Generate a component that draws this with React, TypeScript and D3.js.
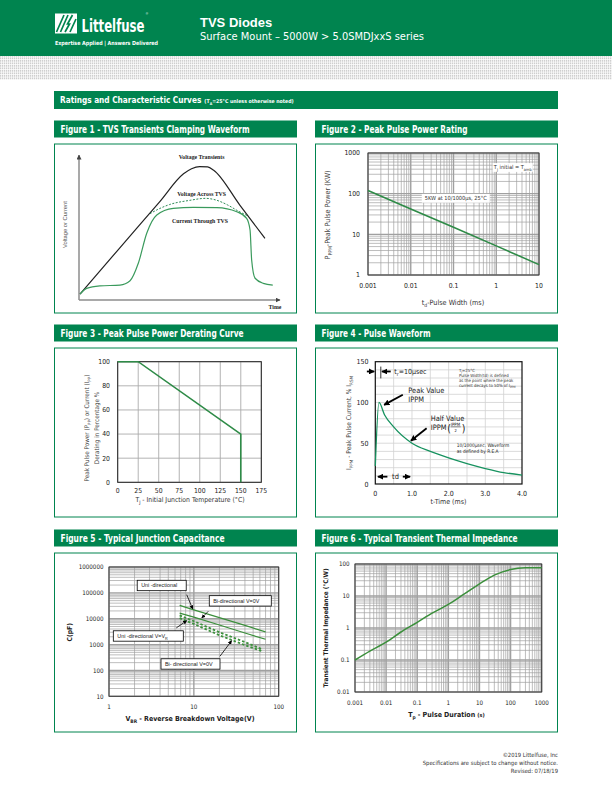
import * as d3 from 'd3';
import { useEffect, useRef } from 'react';

const GREEN = '#00844f';
const CURVE = '#2e8b47';
const TEAL = '#17925f';
const NARROW = "'Liberation Sans Narrow','Arial Narrow','DejaVu Sans Condensed',sans-serif";
const SANS = "'Liberation Sans',Arial,sans-serif";
const SERIF = "'Liberation Serif','Times New Roman',serif";

// Figure 1 - clamping waveform, arbitrary units (0-100 both ways)
const transientT = [0.5, 20, 40, 52, 56, 60, 64, 67, 80, 92.5];
const transientV = [4, 35.5, 67.5, 87, 90.5, 92, 91.8, 89.5, 65.5, 42.5];
const clampT = [35.3, 40, 45, 55, 63, 68, 74, 79, 84.2];
const clampV = [59.5, 63, 65.8, 68.7, 70.1, 69, 65.5, 61.5, 57.9];
const currentT = [0.5, 3.8, 10.4, 20.4, 25.4, 29.5, 33.7, 38.7, 46.9, 56.9, 68.6, 78.5, 83.4, 85.1, 85.9, 87.6, 91.7, 96.4];
const currentI = [4.1, 8, 9.7, 10.3, 13.3, 25.3, 46, 58.6, 63.2, 63.9, 63.7, 60.9, 56.3, 48.3, 27.6, 15, 11.5, 10.3];

// Figure 2 - peak pulse power rating
const pulseWidthMs = [0.001, 0.01, 0.1, 1, 10];
const peakPowerKW = [120, 42, 15, 5.2, 1.8];
const fig2XTicks = [0.001, 0.01, 0.1, 1, 10];
const fig2YTicks = [1, 10, 100, 1000];

// Figure 3 - derating curve
const derateTemp = [0, 25, 150, 150];
const deratePct = [100, 100, 40, 0];
const fig3XTicks = [0, 25, 50, 75, 100, 125, 150, 175];
const fig3YTicks = [0, 20, 40, 60, 80, 100];

// Figure 4 - pulse waveform
const waveTimeMs = [0, 0.1, 0.25, 0.5, 1, 1.5, 2, 2.5, 3, 3.5, 4];
const waveCurrentPct = [22, 100, 85, 70, 50, 40, 32, 25, 19, 14, 11];
const fig4XTicks = [0, 1, 2, 3, 4];
const fig4XLabels = ['0', '1.0', '2.0', '3.0', '4.0'];
const fig4YTicks = [0, 50, 100, 150];

// Figure 5 - junction capacitance
const vbrSolid = [6.8, 10, 20, 40, 70];
const capUni = [33000, 22000, 11000, 5500, 3100];
const capBi = [16500, 11500, 5700, 2800, 1600];
const vbrDashed = [6.8, 10, 20, 40, 65];
const capUniVr = [13500, 8000, 3000, 1250, 640];
const capBiVr = [10500, 6300, 2300, 950, 540];
const fig5XTicks = [1, 10, 100];
const fig5YTicks = [10, 100, 1000, 10000, 100000, 1000000];

// Figure 6 - thermal impedance
const pulseDurS = [0.001, 0.003, 0.01, 0.03, 0.1, 0.3, 1, 3, 10, 30, 100, 300, 1000];
const thermalZ = [0.1, 0.19, 0.36, 0.75, 1.5, 2.9, 5.5, 11, 24, 45, 67, 76, 77];
const fig6XTicks = [0.001, 0.01, 0.1, 1, 10, 100, 1000];
const fig6YTicks = [0.01, 0.1, 1, 10, 100];

const logSteps = (lo: number, hi: number) => {
  const out: number[] = [];
  for (let k = lo; k < hi; k++) for (let m = 1; m < 10; m++) out.push(+(m * Math.pow(10, k)).toPrecision(2));
  out.push(Math.pow(10, hi));
  return out;
};
const isDecade = (v: number) => Math.abs(Math.log10(v) - Math.round(Math.log10(v))) < 1e-6;

// text with subscript parts: [string, isSub]
function rich(sel: any, parts: [string, boolean?][], fs: number) {
  let down = false;
  parts.forEach(([s, sub]) => {
    const t = sel.append('tspan').text(s).attr('font-size', sub ? fs * 0.7 : fs);
    if (sub && !down) { t.attr('dy', fs * 0.3); down = true; }
    else if (!sub && down) { t.attr('dy', -fs * 0.3); down = false; }
  });
  return sel;
}

function App() {
  const ref = useRef<SVGSVGElement>(null);

  useEffect(() => {
    const svg = d3.select(ref.current);
    svg.selectAll('*').remove();

    const defs = svg.append('defs');
    const dots = defs.append('pattern').attr('id', 'dots').attr('patternUnits', 'userSpaceOnUse')
      .attr('width', 2).attr('height', 2.5);
    dots.append('rect').attr('width', 2).attr('height', 2.5).attr('fill', '#fff');
    dots.append('rect').attr('width', 1.3).attr('height', 1.8).attr('fill', '#cfcfcf');

    const marker = (id: string, size: number, color: string) => {
      defs.append('marker').attr('id', id).attr('viewBox', '0 0 10 10').attr('refX', 9).attr('refY', 5)
        .attr('markerUnits', 'userSpaceOnUse').attr('markerWidth', size).attr('markerHeight', size)
        .attr('orient', 'auto-start-reverse')
        .append('path').attr('d', 'M0,0L10,5L0,10Z').attr('fill', color);
    };
    marker('head', 6, '#000');
    marker('headSmall', 4, '#000');
    marker('headGray', 5, '#444');

    // ---------- header
    svg.append('rect').attr('width', 612).attr('height', 56).attr('fill', GREEN);
    svg.append('rect').attr('y', 56).attr('width', 612).attr('height', 24).attr('fill', 'url(#dots)');
    svg.append('rect').attr('x', 55).attr('y', 13.5).attr('width', 22).attr('height', 20).attr('fill', '#fff');
    svg.append('path')
      .attr('d', 'M56.5,32 L64,15 M60.5,32 L68,15 M65,32 L69.5,24 L67.5,24 L72.5,15 M70,32 L76,19')
      .attr('stroke', GREEN).attr('stroke-width', 1.7).attr('fill', 'none');
    svg.append('text').attr('x', 81.5).attr('y', 32.3).attr('fill', '#fff').attr('font-family', NARROW)
      .attr('font-weight', 700).attr('font-size', 18).attr('textLength', 63).attr('lengthAdjust', 'spacingAndGlyphs')
      .text('Littelfuse');
    svg.append('text').attr('x', 145.8).attr('y', 14.6).attr('fill', '#fff').attr('font-family', SANS)
      .attr('font-size', 3.2).text('®');
    svg.append('text').attr('x', 55).attr('y', 44.5).attr('fill', '#fff').attr('font-family', NARROW)
      .attr('font-weight', 700).attr('font-size', 5.6).attr('textLength', 103).attr('lengthAdjust', 'spacingAndGlyphs')
      .text('Expertise Applied  |  Answers Delivered');
    svg.append('text').attr('x', 200).attr('y', 27.3).attr('fill', '#fff').attr('font-family', SANS)
      .attr('font-weight', 700).attr('font-size', 13).text('TVS Diodes');
    svg.append('text').attr('x', 200).attr('y', 39.5).attr('fill', '#fff').attr('font-family', NARROW)
      .attr('font-size', 10.8).attr('textLength', 224).attr('lengthAdjust', 'spacingAndGlyphs')
      .text('Surface Mount – 5000W  >  5.0SMDJxxS series');

    // ---------- section bar
    svg.append('rect').attr('x', 54).attr('y', 91).attr('width', 504).attr('height', 18).attr('fill', GREEN);
    const sec = svg.append('text').attr('x', 60).attr('y', 103.3).attr('fill', '#fff').attr('font-family', NARROW)
      .attr('font-weight', 700);
    sec.append('tspan').attr('font-size', 8.2).text('Ratings and Characteristic Curves');
    const secNote = sec.append('tspan').attr('dx', 3);
    rich(secNote, [['(T'], ['A', true], ['=25°C unless otherwise noted)']], 5.2);

    const panel = (x: number, y: number, h: number, title: string, tw: number) => {
      svg.append('rect').attr('x', x).attr('y', y).attr('width', 243).attr('height', 17).attr('fill', GREEN);
      svg.append('text').attr('x', x + 6.5).attr('y', y + 12).attr('fill', '#fff').attr('font-family', NARROW)
        .attr('font-weight', 700).attr('font-size', 9.6).attr('textLength', tw).attr('lengthAdjust', 'spacingAndGlyphs')
        .text(title);
      svg.append('rect').attr('x', x + 0.5).attr('y', y + 23.5).attr('width', 242).attr('height', h)
        .attr('fill', 'none').attr('stroke', GREEN).attr('stroke-width', 1);
    };
    panel(54, 120.5, 169, 'Figure 1 - TVS Transients Clamping Waveform', 189);
    panel(315, 120.5, 169, 'Figure 2 - Peak Pulse Power Rating', 146);
    panel(54, 324.5, 169, 'Figure 3 - Peak Pulse Power Derating Curve', 183);
    panel(315, 324.5, 169, 'Figure 4 - Pulse Waveform', 109);
    panel(54, 529.5, 179, 'Figure 5 - Typical Junction Capacitance', 164);
    panel(315, 529.5, 179, 'Figure 6 - Typical Transient Thermal Impedance', 196);

    const tickText = (g: any, x: number, y: number, s: string, anchor: string, fs: number, bold = false) =>
      g.append('text').attr('x', x).attr('y', y).attr('text-anchor', anchor).attr('font-family', NARROW)
        .attr('font-size', fs).attr('font-weight', bold ? 700 : 400).attr('fill', '#222').text(s);

    const logGrid = (g: any, x: any, y: any, xs: number[], ys: number[]) => {
      const [y0, y1] = y.range();
      const [x0, x1] = x.range();
      g.selectAll(null).data(xs).join('line')
        .attr('x1', (d: number) => x(d)).attr('x2', (d: number) => x(d)).attr('y1', y0).attr('y2', y1)
        .attr('stroke', '#a0a0a0').attr('stroke-width', (d: number) => (isDecade(d) ? 1.4 : 0.7));
      g.selectAll(null).data(ys).join('line')
        .attr('y1', (d: number) => y(d)).attr('y2', (d: number) => y(d)).attr('x1', x0).attr('x2', x1)
        .attr('stroke', '#a0a0a0').attr('stroke-width', (d: number) => (isDecade(d) ? 1.4 : 0.7));
      g.append('rect').attr('x', x0).attr('y', y1).attr('width', x1 - x0).attr('height', y0 - y1)
        .attr('fill', 'none').attr('stroke', '#333').attr('stroke-width', 0.9);
    };

    // ---------- Figure 1
    {
      const x = d3.scaleLinear().domain([0, 100]).range([79, 280]);
      const y = d3.scaleLinear().domain([0, 100]).range([300, 155]);
      const g = svg.append('g');
      g.append('line').attr('x1', x(0)).attr('x2', x(0)).attr('y1', y(0)).attr('y2', y(100))
        .attr('stroke', '#8c8c8c').attr('stroke-width', 1.5).attr('marker-end', 'url(#headGray)');
      g.append('line').attr('x1', x(0)).attr('x2', x(100)).attr('y1', y(0)).attr('y2', y(0))
        .attr('stroke', '#8c8c8c').attr('stroke-width', 1.5).attr('marker-end', 'url(#headGray)');
      const ln = d3.line<[number, number]>().x(d => x(d[0])).y(d => y(d[1])).curve(d3.curveMonotoneX);
      g.append('path').attr('d', ln(d3.zip(transientT, transientV) as any)).attr('fill', 'none')
        .attr('stroke', '#222').attr('stroke-width', 1.2);
      g.append('path').attr('d', ln(d3.zip(clampT, clampV) as any)).attr('fill', 'none')
        .attr('stroke', '#2e8b57').attr('stroke-width', 1).attr('stroke-dasharray', '2,1.5');
      g.append('path').attr('d', ln(d3.zip(currentT, currentI) as any)).attr('fill', 'none')
        .attr('stroke', '#3a9a5c').attr('stroke-width', 1.2);
      const lbl = (xv: number, yv: number, s: string) =>
        g.append('text').attr('x', x(xv)).attr('y', y(yv) + 2).attr('text-anchor', 'middle').attr('font-family', SERIF)
          .attr('font-weight', 700).attr('font-size', 5.8).attr('fill', '#222').text(s);
      lbl(61, 98.6, 'Voltage Transients');
      lbl(61, 73.1, 'Voltage Across TVS');
      lbl(60.2, 54.5, 'Current Through TVS');
      g.append('text').attr('x', x(97.5)).attr('y', y(0) + 9).attr('text-anchor', 'middle').attr('font-family', SERIF)
        .attr('font-weight', 700).attr('font-size', 5.8).attr('fill', '#222').text('Time');
      g.append('text').attr('transform', `translate(67,${y(52)}) rotate(-90)`).attr('text-anchor', 'middle')
        .attr('font-family', SANS).attr('font-size', 5.8).attr('fill', '#555').text('Voltage or Current');
    }

    // ---------- Figure 2
    {
      const x = d3.scaleLog().domain([0.001, 10]).range([368, 539]);
      const y = d3.scaleLog().domain([1, 1000]).range([275, 153]);
      const g = svg.append('g');
      logGrid(g, x, y, logSteps(-3, 1), logSteps(0, 3));
      const ln = d3.line<[number, number]>().x(d => x(d[0])).y(d => y(d[1]));
      g.append('path').attr('d', ln(d3.zip(pulseWidthMs, peakPowerKW) as any)).attr('fill', 'none')
        .attr('stroke', CURVE).attr('stroke-width', 1.6);
      fig2XTicks.forEach(v => tickText(g, x(v), 288, String(v), 'middle', 6.8));
      fig2YTicks.forEach(v => tickText(g, 360, y(v) + 2.4, String(v), 'end', 6.8));
      const note = (xv: number, yv: number, w: number, parts: [string, boolean?][]) => {
        g.append('rect').attr('x', x(xv) - w / 2).attr('y', y(yv) - 4.4).attr('width', w).attr('height', 8.8).attr('fill', '#fff');
        rich(g.append('text').attr('x', x(xv)).attr('y', y(yv) + 2).attr('text-anchor', 'middle').attr('font-family', NARROW)
          .attr('fill', '#333'), parts, 5.6);
      };
      note(0.113, 77, 68, [['5KW at 10/1000μs, 25°C']]);
      note(2.43, 440, 40, [['T'], ['J', true], [' initial = T'], ['amb', true]]);
      rich(g.append('text').attr('x', 453).attr('y', 305).attr('text-anchor', 'middle').attr('font-family', NARROW)
        .attr('fill', '#333'), [['t'], ['d', true], ['-Pulse Width (ms)']], 7.2);
      rich(g.append('text').attr('transform', `translate(329.5,${y(30)}) rotate(-90)`).attr('text-anchor', 'middle')
        .attr('font-family', NARROW).attr('fill', '#444'), [['P'], ['PPM', true], ['-Peak Pulse Power (KW)']], 7.2);
    }

    // ---------- Figure 3
    {
      const x = d3.scaleLinear().domain([0, 175]).range([117.7, 261.3]);
      const y = d3.scaleLinear().domain([0, 100]).range([482.3, 361.7]);
      const g = svg.append('g');
      g.selectAll(null).data(fig3XTicks).join('line').attr('x1', d => x(d)).attr('x2', d => x(d))
        .attr('y1', y(0)).attr('y2', y(100)).attr('stroke', '#aaa').attr('stroke-width', 0.9);
      g.selectAll(null).data(fig3YTicks).join('line').attr('y1', d => y(d)).attr('y2', d => y(d))
        .attr('x1', x(0)).attr('x2', x(175)).attr('stroke', '#aaa').attr('stroke-width', 0.9);
      g.append('rect').attr('x', x(0)).attr('y', y(100)).attr('width', x(175) - x(0)).attr('height', y(0) - y(100))
        .attr('fill', 'none').attr('stroke', '#222').attr('stroke-width', 1);
      const ln = d3.line<[number, number]>().x(d => x(d[0])).y(d => y(d[1]));
      g.append('path').attr('d', ln(d3.zip(derateTemp, deratePct) as any)).attr('fill', 'none')
        .attr('stroke', CURVE).attr('stroke-width', 1.6);
      fig3XTicks.forEach(v => tickText(g, x(v), 492.5, String(v), 'middle', 6.8));
      fig3YTicks.forEach(v => tickText(g, 110, y(v) + 2.4, String(v), 'end', 6.8));
      rich(g.append('text').attr('x', 190).attr('y', 501.5).attr('text-anchor', 'middle').attr('font-family', NARROW)
        .attr('fill', '#333'), [['T'], ['J', true], [' - Initial Junction Temperature (°C)']], 6.8);
      rich(g.append('text').attr('transform', `translate(89,${y(45)}) rotate(-90)`).attr('text-anchor', 'middle')
        .attr('font-family', NARROW).attr('fill', '#444'),
        [['Peak Pulse Power (P'], ['PP', true], [') or Current (I'], ['PP', true], [')']], 6.3);
      g.append('text').attr('transform', `translate(99,${y(45)}) rotate(-90)`).attr('text-anchor', 'middle')
        .attr('font-family', NARROW).attr('font-size', 6.3).attr('fill', '#444').text('Derating in Percentage %');
    }

    // ---------- Figure 4
    {
      const x = d3.scaleLinear().domain([0, 4]).range([375.3, 522]);
      const y = d3.scaleLinear().domain([0, 150]).range([484, 361.7]);
      const g = svg.append('g');
      g.selectAll(null).data(d3.range(0.5, 4, 0.5)).join('line').attr('x1', d => x(d)).attr('x2', d => x(d))
        .attr('y1', y(0)).attr('y2', y(150)).attr('stroke', '#d2d2d2').attr('stroke-width', 0.8);
      g.selectAll(null).data(d3.range(10, 150, 10)).join('line').attr('y1', d => y(d)).attr('y2', d => y(d))
        .attr('x1', x(0)).attr('x2', x(4)).attr('stroke', '#d2d2d2').attr('stroke-width', 0.8);
      g.append('rect').attr('x', x(0)).attr('y', y(150)).attr('width', x(4) - x(0)).attr('height', y(0) - y(150))
        .attr('fill', 'none').attr('stroke', '#111').attr('stroke-width', 1.2);
      const ln = d3.line<[number, number]>().x(d => x(d[0])).y(d => y(d[1])).curve(d3.curveMonotoneX);
      g.append('path').attr('d', ln(d3.zip(waveTimeMs, waveCurrentPct) as any)).attr('fill', 'none')
        .attr('stroke', TEAL).attr('stroke-width', 1.3);
      fig4XTicks.forEach((v, i) => tickText(g, x(v), 496, fig4XLabels[i], 'middle', 7));
      fig4YTicks.forEach(v => tickText(g, 368.5, y(v) + 2.5, String(v), 'end', 7));

      const arrow = (x1: number, y1: number, x2: number, y2: number) =>
        g.append('line').attr('x1', x(x1)).attr('y1', y(y1)).attr('x2', x(x2)).attr('y2', y(y2))
          .attr('stroke', '#000').attr('stroke-width', 1.8).attr('marker-end', 'url(#head)');
      arrow(-0.23, 138, -0.03, 138);
      arrow(0.42, 138, 0.18, 138);
      g.append('line').attr('x1', x(0.15)).attr('x2', x(0.15)).attr('y1', y(144)).attr('y2', y(129.5))
        .attr('stroke', '#000').attr('stroke-width', 0.8);
      rich(g.append('text').attr('x', x(0.52)).attr('y', y(135.5)).attr('font-family', NARROW).attr('fill', '#222'),
        [['t'], ['r', true], ['=10μsec']], 7);
      const small = ['', 'Pulse Width(td) is defined', 'as the point where the peak', 'current decays to 50% of I'];
      const smallY = [137.4, 131.3, 125.1, 119];
      small.forEach((s, i) => {
        const t = g.append('text').attr('x', x(2.28)).attr('y', y(smallY[i])).attr('font-family', NARROW).attr('fill', '#333');
        if (i === 0) rich(t, [['T'], ['J', true], ['=25°C']], 4.3);
        else if (i === 3) rich(t, [[s], ['PPM', true]], 4.3);
        else t.attr('font-size', 4.3).text(s);
      });
      const tx = (xv: number, yv: number, s: string, fs: number) =>
        g.append('text').attr('x', x(xv)).attr('y', y(yv)).attr('font-family', NARROW).attr('font-size', fs)
          .attr('fill', '#222').text(s);
      tx(0.9, 111.6, 'Peak Value', 7.4);
      tx(0.9, 101, 'IPPM', 7.4);
      arrow(0.75, 109.5, 0.24, 97);
      tx(1.51, 77.3, 'Half Value', 7.4);
      tx(1.51, 66.2, 'IPPM', 7.4);
      const fx = x(1.51) + 16.5;
      const fy = y(66.2);
      g.append('text').attr('x', fx).attr('y', fy + 1.5).attr('font-family', NARROW).attr('font-size', 10.5).attr('fill', '#222').text('(');
      g.append('text').attr('x', fx + 3.6).attr('y', fy - 4.5).attr('font-family', NARROW).attr('font-size', 4.4).attr('fill', '#222').text('IPPM');
      g.append('line').attr('x1', fx + 3.5).attr('x2', fx + 13.5).attr('y1', fy - 3.2).attr('y2', fy - 3.2).attr('stroke', '#222').attr('stroke-width', 0.5);
      g.append('text').attr('x', fx + 8.5).attr('y', fy + 1.5).attr('text-anchor', 'middle').attr('font-family', NARROW).attr('font-size', 4).attr('fill', '#222').text('2');
      g.append('text').attr('x', fx + 14.5).attr('y', fy + 1.5).attr('font-family', NARROW).attr('font-size', 10.5).attr('fill', '#222').text(')');
      arrow(1.4, 68.3, 0.97, 53);
      tx(2.22, 45.4, '10/1000μsec. Waveform', 4.8);
      tx(2.22, 38.6, 'as defined by R.E.A', 4.8);
      arrow(0.33, 9, 0.07, 9);
      arrow(0.75, 9, 0.95, 9);
      g.append('text').attr('x', x(0.55)).attr('y', y(9) + 2.5).attr('text-anchor', 'middle').attr('font-family', NARROW)
        .attr('font-size', 7.4).attr('fill', '#222').text('td');
      g.append('text').attr('x', 448.5).attr('y', 504).attr('text-anchor', 'middle').attr('font-family', NARROW)
        .attr('font-size', 7).attr('fill', '#333').text('t-Time (ms)');
      rich(g.append('text').attr('transform', `translate(351,${y(75)}) rotate(-90)`).attr('text-anchor', 'middle')
        .attr('font-family', NARROW).attr('fill', '#444'),
        [['I'], ['PPM', true], [' - Peak Pulse Current, % I'], ['RSM', true]], 6.6);
    }

    // ---------- Figure 5
    {
      const x = d3.scaleLog().domain([1, 100]).range([109, 278.7]);
      const y = d3.scaleLog().domain([10, 1000000]).range([696.3, 567]);
      const g = svg.append('g');
      logGrid(g, x, y, logSteps(0, 2), logSteps(1, 6));
      const ln = d3.line<[number, number]>().x(d => x(d[0])).y(d => y(d[1]));
      g.append('path').attr('d', ln(d3.zip(vbrSolid, capUni) as any)).attr('fill', 'none').attr('stroke', '#3b8f3b').attr('stroke-width', 1.2);
      g.append('path').attr('d', ln(d3.zip(vbrSolid, capBi) as any)).attr('fill', 'none').attr('stroke', '#3b8f3b').attr('stroke-width', 1.2);
      g.append('path').attr('d', ln(d3.zip(vbrDashed, capUniVr) as any)).attr('fill', 'none').attr('stroke', '#3b8f3b')
        .attr('stroke-width', 1.8).attr('stroke-dasharray', '2.5,2');
      g.append('path').attr('d', ln(d3.zip(vbrDashed, capBiVr) as any)).attr('fill', 'none').attr('stroke', '#3b8f3b')
        .attr('stroke-width', 1.8).attr('stroke-dasharray', '2.5,2');
      fig5XTicks.forEach(v => tickText(g, x(v), 708.5, String(v), 'middle', 6.2));
      fig5YTicks.forEach(v => tickText(g, 103.5, y(v) + 2.2, String(v), 'end', 6.2));

      const box = (xv: number, yv: number, w: number, parts: [string, boolean?][]) => {
        const bx = x(xv);
        const by = y(yv);
        g.append('rect').attr('x', bx).attr('y', by - 5.2).attr('width', w).attr('height', 10.4)
          .attr('fill', '#fff').attr('stroke', '#000').attr('stroke-width', 0.8);
        rich(g.append('text').attr('x', bx + 4).attr('y', by + 2).attr('font-family', SANS).attr('fill', '#222'), parts, 5.4);
      };
      const arr = (x1: number, y1: number, x2: number, y2: number) =>
        g.append('line').attr('x1', x(x1)).attr('y1', y(y1)).attr('x2', x(x2)).attr('y2', y(y2))
          .attr('stroke', '#000').attr('stroke-width', 0.8).attr('marker-end', 'url(#headSmall)');
      box(2.15, 193000, 49, [['Uni -directional']]);
      box(15.2, 49000, 62, [['Bi-directional V=0V']]);
      box(1.124, 2150, 70, [['Uni -directional V=V'], ['R', true]]);
      box(4.1, 178, 59, [['Bi- directional V=0V']]);
      arr(8.24, 85000, 9.7, 23800);
      arr(14.8, 19400, 12.4, 10700);
      arr(6.2, 4390, 8.24, 8400);
      arr(20.3, 353, 27.9, 1415);
      rich(g.append('text').attr('x', 190).attr('y', 721).attr('text-anchor', 'middle').attr('font-family', NARROW)
        .attr('font-weight', 700).attr('fill', '#222'), [['V'], ['BR', true], [' - Reverse Breakdown Voltage(V)']], 7);
      g.append('text').attr('transform', `translate(71.5,${y(3000)}) rotate(-90)`).attr('text-anchor', 'middle')
        .attr('font-family', NARROW).attr('font-weight', 700).attr('font-size', 6.8).attr('fill', '#222').text('C(pF)');
    }

    // ---------- Figure 6
    {
      const x = d3.scaleLog().domain([0.001, 1000]).range([355, 541.7]);
      const y = d3.scaleLog().domain([0.01, 100]).range([692, 564]);
      const g = svg.append('g');
      logGrid(g, x, y, logSteps(-3, 3), logSteps(-2, 2));
      const ln = d3.line<[number, number]>().x(d => x(d[0])).y(d => y(d[1])).curve(d3.curveMonotoneX);
      g.append('path').attr('d', ln(d3.zip(pulseDurS, thermalZ) as any)).attr('fill', 'none')
        .attr('stroke', '#3b8f3b').attr('stroke-width', 1.5);
      fig6XTicks.forEach(v => tickText(g, x(v), 704.5, String(v), 'middle', 6.2));
      fig6YTicks.forEach(v => tickText(g, 349.5, y(v) + 2.2, String(v), 'end', 6.2));
      const xt = g.append('text').attr('x', 446.5).attr('y', 716.5).attr('text-anchor', 'middle').attr('font-family', NARROW)
        .attr('font-weight', 700).attr('fill', '#222');
      rich(xt, [['T'], ['p', true], [' - Pulse Duration ']], 7);
      xt.append('tspan').attr('font-size', 5.5).text('(s)');
      g.append('text').attr('transform', `translate(327.5,${y(1)}) rotate(-90)`).attr('text-anchor', 'middle')
        .attr('font-family', NARROW).attr('font-weight', 700).attr('font-size', 6.4).attr('fill', '#222')
        .text('Transient Thermal Impedance  (°C/W)');
    }

    // ---------- footer
    ['©2019 Littelfuse, Inc', 'Specifications are subject to change without notice.', 'Revised: 07/18/19'].forEach((s, i) => {
      svg.append('text').attr('x', 558).attr('y', 757 + i * 8).attr('text-anchor', 'end').attr('font-family', NARROW)
        .attr('font-size', 5.8).attr('fill', '#333').text(s);
    });
  }, []);

  return (
    <div style={{ position: 'absolute', left: 0, top: 0 }}>
      <svg ref={ref} width={612} height={792} style={{ display: 'block', background: '#fff' }} />
    </div>
  );
}

export default App;
